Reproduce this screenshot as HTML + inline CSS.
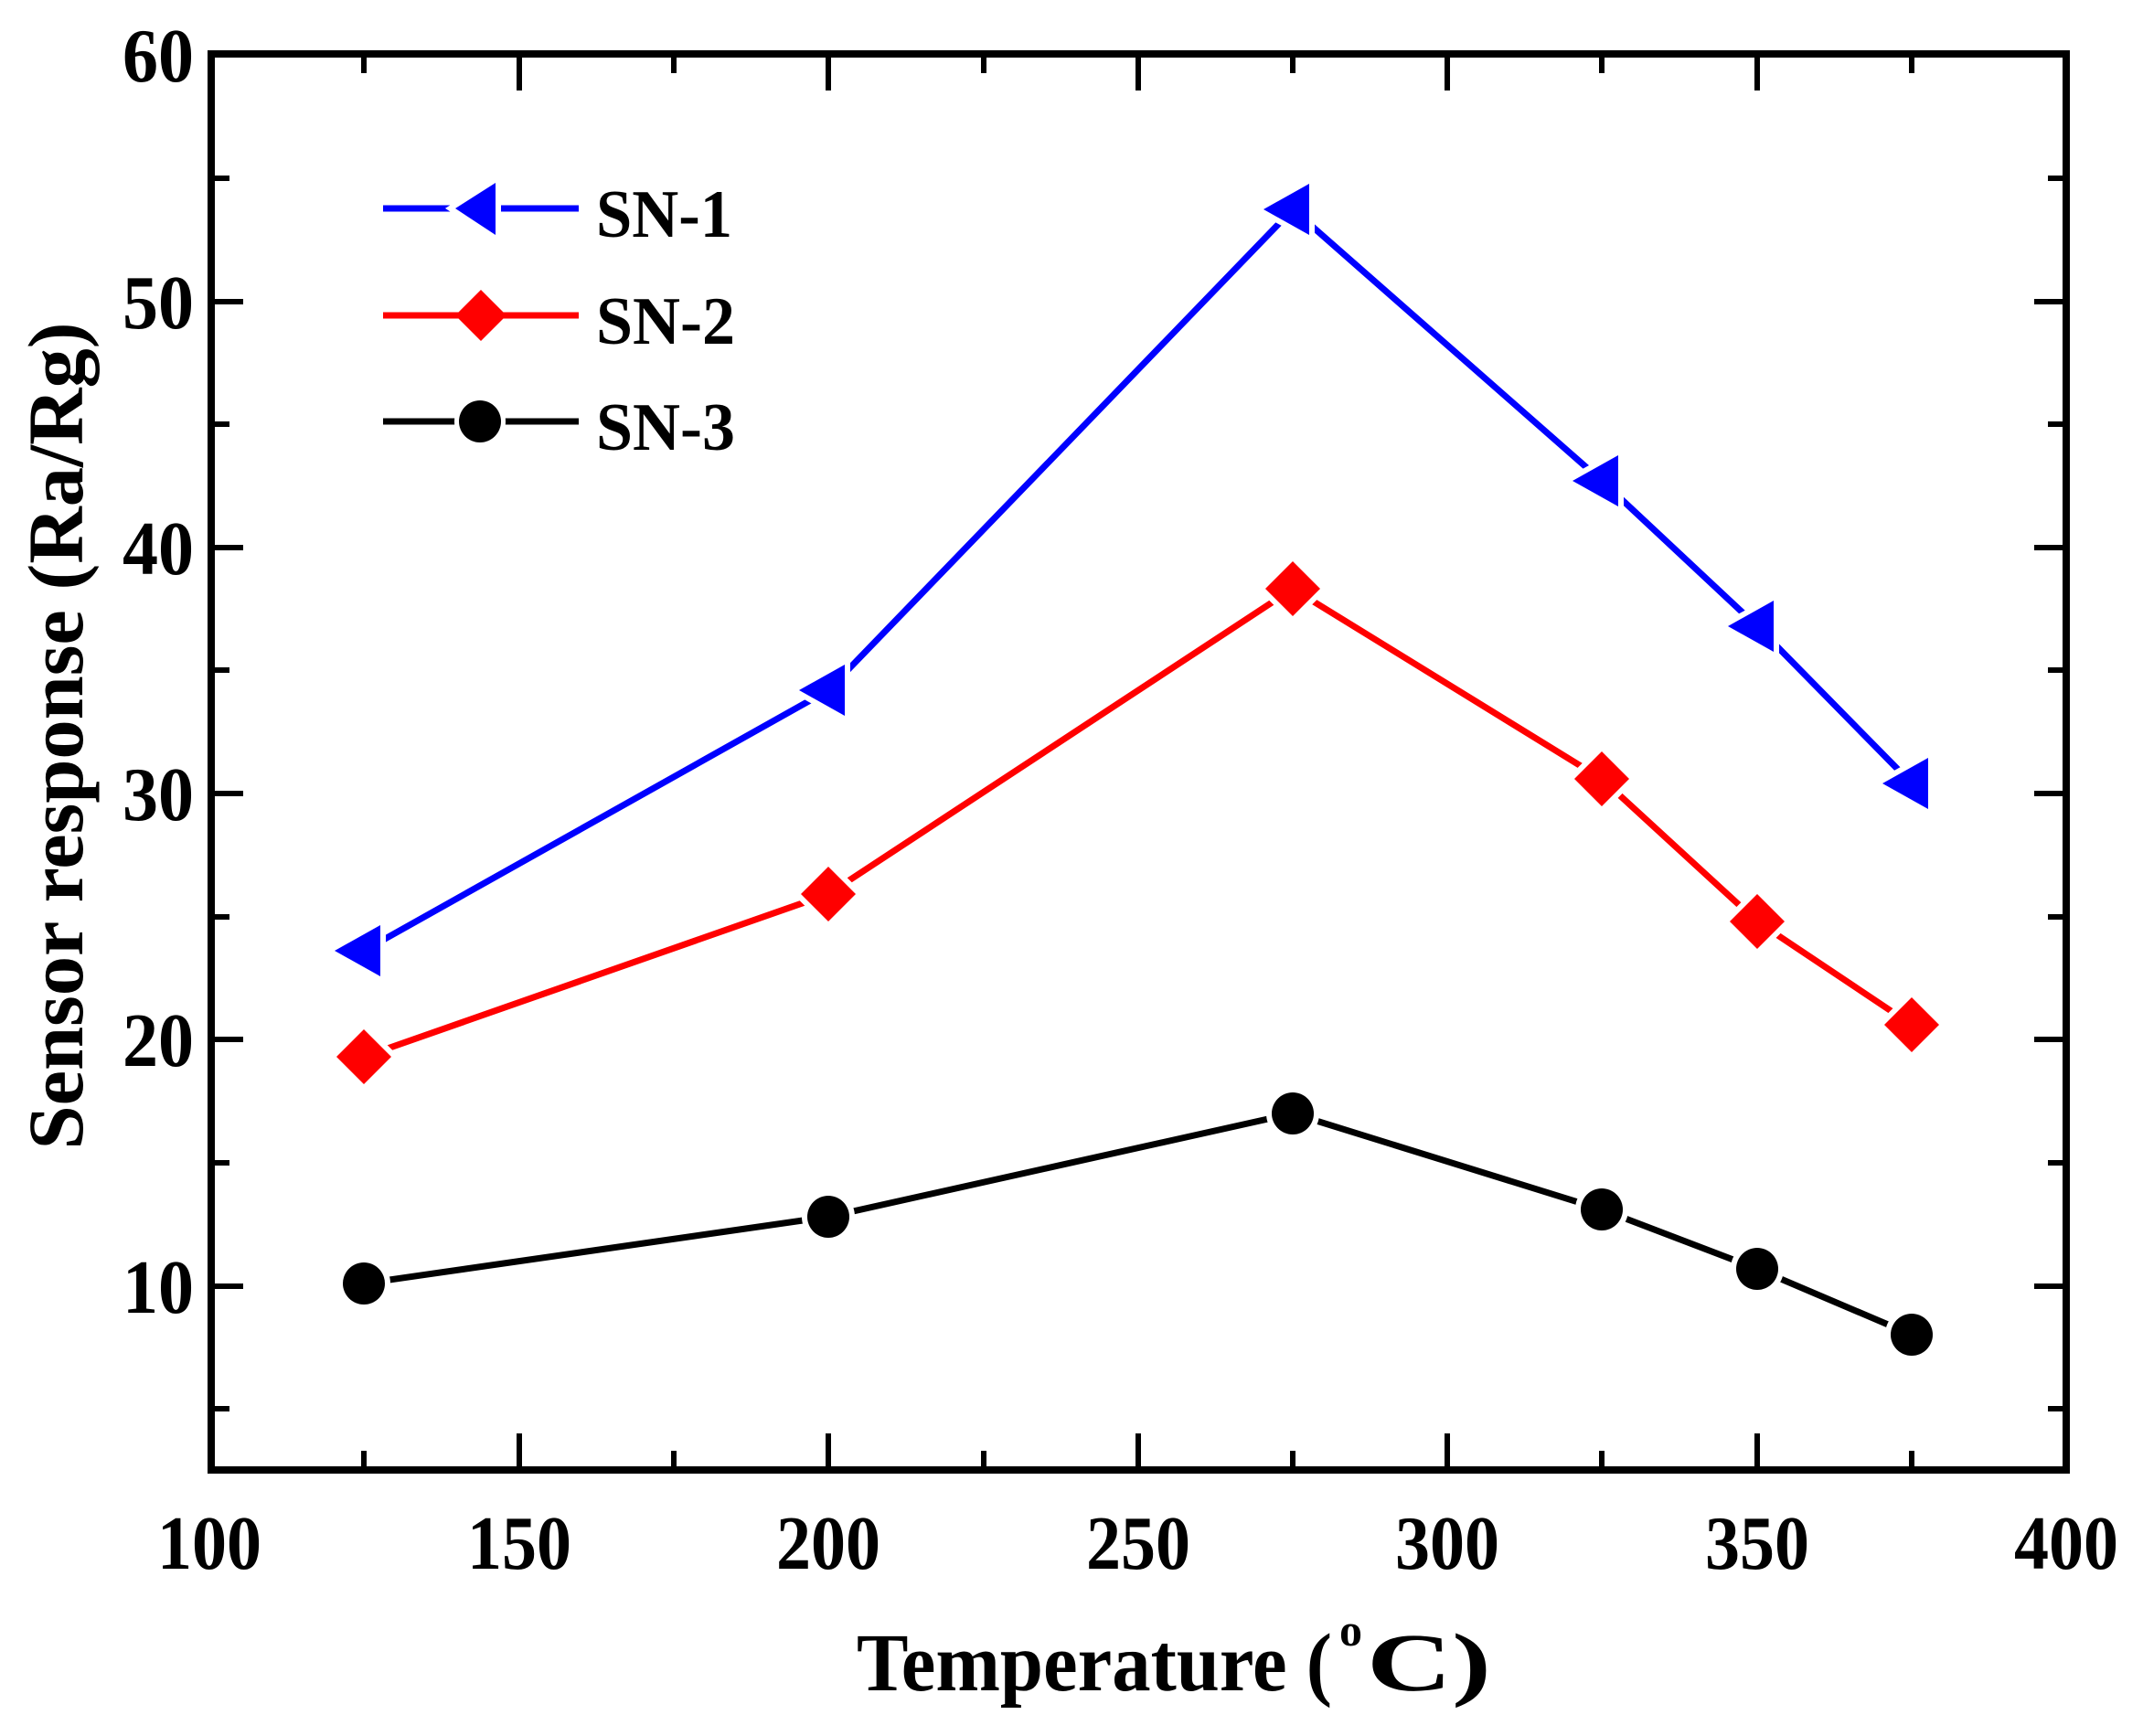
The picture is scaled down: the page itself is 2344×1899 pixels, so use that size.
<!DOCTYPE html>
<html><head><meta charset="utf-8"><style>html,body{margin:0;padding:0;background:#fff}svg{display:block}</style></head>
<body>
<svg width="2344" height="1899" viewBox="0 0 2344 1899" xmlns="http://www.w3.org/2000/svg" font-family="'Liberation Serif', serif" font-weight="bold">
<rect width="2344" height="1899" fill="#fff"/>
<g stroke="#000" stroke-width="6">
<path d="M568 1608V1568M906 1608V1568M1245 1608V1568M1583 1608V1568M1922 1608V1568
M398 1608V1587M737 1608V1587M1076 1608V1587M1414 1608V1587M1752 1608V1587M2091 1608V1587
M568 59V99M906 59V99M1245 59V99M1583 59V99M1922 59V99
M398 59V80M737 59V80M1076 59V80M1414 59V80M1752 59V80M2091 59V80"/>
<path d="M231 1407H266M231 1137H266M231 868H266M231 599H266M231 330H266
M231 1541H251M231 1272H251M231 1003H251M231 733H251M231 464H251M231 195H251
M2260 1407H2225M2260 1137H2225M2260 868H2225M2260 599H2225M2260 330H2225
M2260 1541H2240M2260 1272H2240M2260 1003H2240M2260 733H2240M2260 464H2240M2260 195H2240"/>
</g>
<rect x="231" y="59" width="2029" height="1549" fill="none" stroke="#000" stroke-width="8"/>
<polyline fill="none" stroke="#0000ff" stroke-width="7" points="398,1040 906,755 1414,229 1752,526 1922,685 2091,857"/>
<polyline fill="none" stroke="#ff0000" stroke-width="7" points="398,1156 906,978 1414,644 1752,852 1922,1008 2091,1121"/>
<polyline fill="none" stroke="#000" stroke-width="7" points="398,1404 906,1331 1414,1218 1752,1323 1922,1388 2091,1460"/>
<g fill="#0000ff" stroke="#fff" stroke-width="12" paint-order="stroke">
<polygon points="366,1040 416,1012 416,1068"/>
<polygon points="874,755 924,727 924,783"/>
<polygon points="1382,229 1432,201 1432,257"/>
<polygon points="1720,526 1770,498 1770,554"/>
<polygon points="1890,685 1940,657 1940,713"/>
<polygon points="2059,857 2109,829 2109,885"/>
</g>
<g fill="#ff0000" stroke="#fff" stroke-width="12" paint-order="stroke">
<polygon points="398,1126 428,1156 398,1186 368,1156"/>
<polygon points="906,948 936,978 906,1008 876,978"/>
<polygon points="1414,614 1444,644 1414,674 1384,644"/>
<polygon points="1752,822 1782,852 1752,882 1722,852"/>
<polygon points="1922,978 1952,1008 1922,1038 1892,1008"/>
<polygon points="2091,1091 2121,1121 2091,1151 2061,1121"/>
</g>
<g fill="#000" stroke="#fff" stroke-width="12" paint-order="stroke">
<circle cx="398" cy="1404" r="23"/><circle cx="906" cy="1331" r="23"/><circle cx="1414" cy="1218" r="23"/>
<circle cx="1752" cy="1323" r="23"/><circle cx="1922" cy="1388" r="23"/><circle cx="2091" cy="1460" r="23"/>
</g>
<line x1="419" y1="228" x2="633" y2="228" stroke="#0000ff" stroke-width="7"/>
<polygon points="498,228 542,200 542,257" fill="#0000ff" stroke="#fff" stroke-width="12" paint-order="stroke"/>
<line x1="419" y1="345" x2="633" y2="345" stroke="#ff0000" stroke-width="7"/>
<polygon points="526,317 554,345 526,373 498,345" fill="#ff0000"/>
<line x1="419" y1="461" x2="633" y2="461" stroke="#000" stroke-width="7"/>
<circle cx="525" cy="461" r="23" fill="#000" stroke="#fff" stroke-width="10" paint-order="stroke"/>
<g font-size="74" fill="#000">
<text x="652" y="259" textLength="149" lengthAdjust="spacingAndGlyphs">SN-1</text>
<text x="652" y="376" textLength="152" lengthAdjust="spacingAndGlyphs">SN-2</text>
<text x="652" y="492" textLength="152" lengthAdjust="spacingAndGlyphs">SN-3</text>
</g>
<g font-size="84" fill="#000" text-anchor="end">
<text x="212" y="89" textLength="78" lengthAdjust="spacingAndGlyphs">60</text>
<text x="212" y="359" textLength="78" lengthAdjust="spacingAndGlyphs">50</text>
<text x="212" y="628" textLength="78" lengthAdjust="spacingAndGlyphs">40</text>
<text x="212" y="897" textLength="78" lengthAdjust="spacingAndGlyphs">30</text>
<text x="212" y="1166" textLength="78" lengthAdjust="spacingAndGlyphs">20</text>
<text x="212" y="1436" textLength="78" lengthAdjust="spacingAndGlyphs">10</text>
</g>
<g font-size="84" fill="#000">
<text x="172" y="1716" textLength="114" lengthAdjust="spacingAndGlyphs">100</text>
<text x="511" y="1716" textLength="114" lengthAdjust="spacingAndGlyphs">150</text>
<text x="849" y="1716" textLength="114" lengthAdjust="spacingAndGlyphs">200</text>
<text x="1188" y="1716" textLength="114" lengthAdjust="spacingAndGlyphs">250</text>
<text x="1526" y="1716" textLength="114" lengthAdjust="spacingAndGlyphs">300</text>
<text x="1865" y="1716" textLength="114" lengthAdjust="spacingAndGlyphs">350</text>
<text x="2203" y="1716" textLength="114" lengthAdjust="spacingAndGlyphs">400</text>
</g>
<text x="937" y="1849" font-size="90" fill="#000" textLength="520" lengthAdjust="spacingAndGlyphs">Temperature (</text>
<text x="1465" y="1800" font-size="50" fill="#000">o</text>
<text x="1495" y="1849" font-size="90" fill="#000" textLength="136" lengthAdjust="spacingAndGlyphs">C)</text>
<text transform="translate(90,805) rotate(-90)" text-anchor="middle" font-size="86" fill="#000" textLength="905" lengthAdjust="spacingAndGlyphs">Sensor response (Ra/Rg)</text>
</svg>
</body></html>
